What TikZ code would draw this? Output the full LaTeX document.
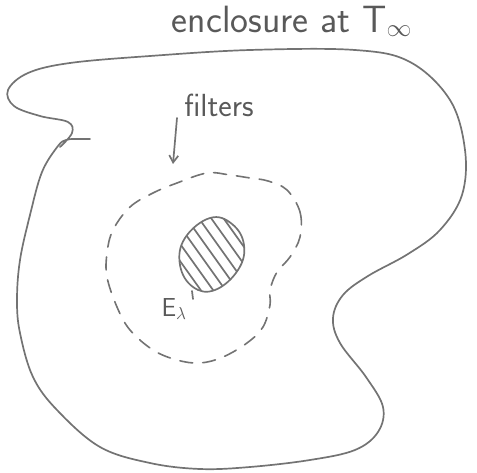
\documentclass[tikz,border=0pt]{standalone}
\usetikzlibrary{arrows.meta,calc}
\begin{document}
\begin{tikzpicture}[x=1pt,y=-1pt,
  pen/.style={draw=black!55,line width=1.7pt,line cap=round,line join=round},
  dashpen/.style={draw=black!55,line width=1.6pt,line cap=round,dash pattern=on 13pt off 10pt},
  hand/.style={text=black!65,font=\sffamily}]
\useasboundingbox (0,0) rectangle (477,473);
% outer enclosure
\draw[pen] plot[smooth,tension=0.6] coordinates {
 (60,147) (72,133) (68,122) (40,116) (14,106) (8,90) (28,73) (70,63)
 (150,56) (250,50) (355,50) (410,62) (450,100) (465,150) (462,195)
 (440,230) (408,254) (368,276) (343,295) (333,318) (340,343) (366,377)
 (383,407) (378,432) (355,450) (310,460) (250,467) (200,469) (150,463)
 (100,447) (57,410) (33,377) (20,333) (17,300) (20,260) (30,215)
 (42,172) (58,146) (66,140) (75,139) (90,139)};
% filters boundary (dashed)
\draw[dashpen] plot[smooth cycle,tension=0.6] coordinates {
 (287,190) (300,212) (300,237) (290,257) (277,272) (270,290) (270,305)
 (263,327) (247,343) (223,357) (200,363) (177,360) (153,350) (130,330)
 (117,307) (107,277) (107,253) (113,230) (130,207) (153,193) (177,183)
 (207,173) (230,175) (250,178) (268,181)};
% hatched body
\begin{scope}
\path[clip] plot[smooth cycle,tension=0.7] coordinates {
 (210,218) (232,224) (244,245) (238,270) (215,290) (193,287) (180,265) (185,238)};
\foreach \k in {-8,...,8}
  \draw[draw=black!55,line width=1.7pt,line cap=round]
    ($(212,254)+(\k*8.2,-\k*5.8)+(-40,-56)$) -- ($(212,254)+(\k*8.2,-\k*5.8)+(40,56)$);
\end{scope}
\draw[pen] plot[smooth cycle,tension=0.7] coordinates {
 (210,218) (232,224) (244,245) (238,270) (215,290) (193,287) (180,265) (185,238)};
% labels
\node[hand,font=\sffamily\fontsize{38}{40}\selectfont] (encl) at (292,21) {enclosure at T$_\infty$};
\node[hand,font=\sffamily\fontsize{32}{34}\selectfont] (filt) at (219,105) {filters};
\node[hand,font=\sffamily\fontsize{26}{28}\selectfont] (el) at (174,309) {E$_\lambda$};
\coordinate (fa) at (177,118);
\coordinate (fb) at (173,164);
\draw[pen,-{Straight Barb[length=7pt,width=9pt]}] (fa) -- (fb);
\coordinate (ta) at (192,291);
\coordinate (tb) at (193,299);
\draw[pen] (ta) -- (tb);
\end{tikzpicture}
\end{document}
